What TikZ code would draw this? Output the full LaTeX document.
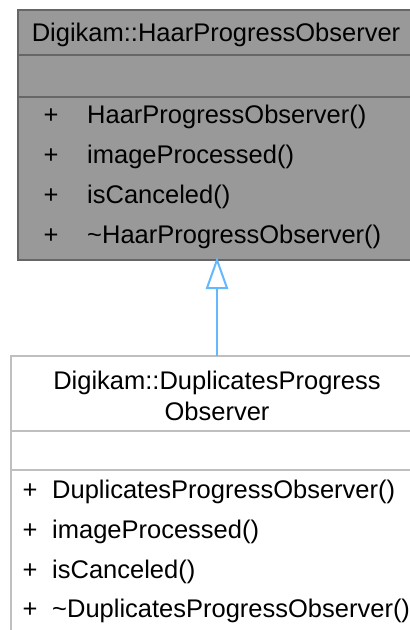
\documentclass[tikz,border=0pt]{standalone}
\usepackage{fontspec}
\setmainfont{Liberation Sans}
\definecolor{topfill}{HTML}{999999}
\definecolor{topdraw}{HTML}{666666}
\definecolor{botdraw}{HTML}{BFBFBF}
\definecolor{edgeblue}{HTML}{63B8FF}
\tikzset{
  member/.style={anchor=base west, inner sep=0pt, font=\fontsize{25.5}{30}\selectfont},
  plus/.style={anchor=base, inner sep=0pt, font=\fontsize{25.5}{30}\selectfont},
  title/.style={anchor=base, inner sep=0pt, font=\fontsize{25.5}{30}\selectfont},
}
\begin{document}
\begin{tikzpicture}[x=1pt,y=-1pt]
\useasboundingbox (0,0) rectangle (410,630);
\clip (0,0) rectangle (410,630);
% top class box
\draw[topdraw, fill=topfill, line width=2pt] (18,10) rectangle (414,260);
\draw[topdraw, line width=2pt] (18,55) -- (414,55);
\draw[topdraw, line width=2pt] (18,97) -- (414,97);
\node[title] (tt) at (216,41) {Digikam::HaarProgressObserver};
\node[plus] (tp1) at (51,123) {+};
\node[plus] (tp2) at (51,163) {+};
\node[plus] (tp3) at (51,203) {+};
\node[plus] (tp4) at (51,243) {+};
\node[member] (tm1) at (87,123) {HaarProgressObserver()};
\node[member] (tm2) at (87,163) {imageProcessed()};
\node[member] (tm3) at (87,203) {isCanceled()};
\node[member] (tm4) at (87,243) {\char`\~HaarProgressObserver()};
\coordinate (topbox) at (217,260);
% bottom class box
\draw[botdraw, fill=white, line width=2pt] (11,356) rectangle (423,650);
\draw[botdraw, line width=2pt] (11,431) -- (423,431);
\draw[botdraw, line width=2pt] (11,470) -- (423,470);
\node[title] (bt1) at (217,389) {Digikam::DuplicatesProgress};
\node[title] (bt2) at (217,420) {Observer};
\node[plus] (bp1) at (30,498) {+};
\node[plus] (bp2) at (30,538) {+};
\node[plus] (bp3) at (30,578) {+};
\node[plus] (bp4) at (30,617) {+};
\node[member] (bm1) at (52,498) {DuplicatesProgressObserver()};
\node[member] (bm2) at (52,538) {imageProcessed()};
\node[member] (bm3) at (52,578) {isCanceled()};
\node[member] (bm4) at (52,617) {\char`\~DuplicatesProgressObserver()};
\coordinate (botbox) at (217,356);
\coordinate (abase) at (217,288);
% inheritance arrow
\draw[edgeblue, line width=2pt] (botbox) -- (abase);
\draw[edgeblue, line width=2pt, fill=white, line join=miter] (topbox) -- (227,288) -- (207,288) -- cycle;
\end{tikzpicture}
\end{document}
